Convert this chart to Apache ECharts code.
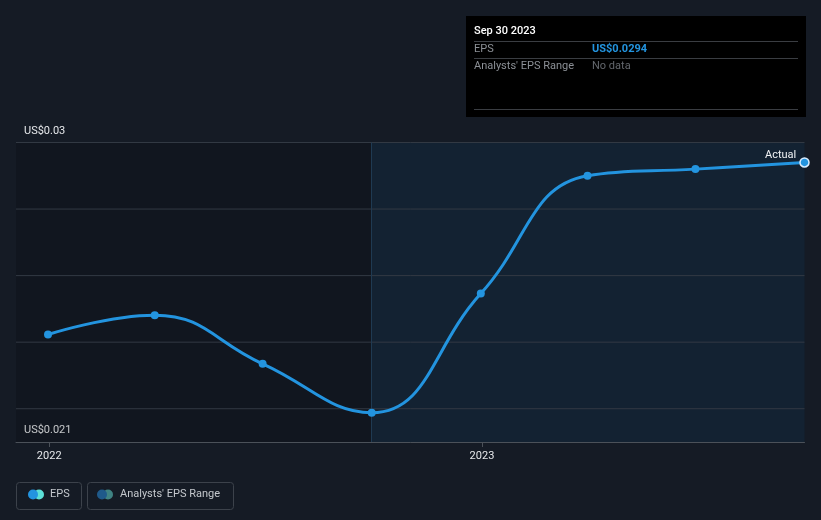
<!DOCTYPE html>
<html>
<head>
<meta charset="utf-8">
<script src="https://cdn.jsdelivr.net/npm/echarts@6/dist/echarts.min.js"></script>
<style>
html,body{margin:0;padding:0;background:#151b25;}
#c{width:821px;height:520px;}
</style>
</head>
<body>
<div id="c"></div>
<script>
// ---- data ----
const dates = ['2021-12-31','2022-03-31','2022-06-30','2022-09-30','2022-12-31','2023-03-31','2023-06-30','2023-09-30'];
const eps = [0.02423, 0.02481, 0.02335, 0.02188, 0.02546, 0.02900, 0.02920, 0.0294];
const xTickDates = ['2022-01-01','2023-01-01'];
const xTickLabels = ['2022','2023'];
const yGridValues = [0.022, 0.024, 0.026, 0.028, 0.030];
const yLabelValues = [0.021, 0.030];
const yLabelTexts = ['US$0.021','US$0.03'];
const forecastStart = '2022-09-30';
const xMin = '2021-12-04';
const xMax = '2023-09-30';
const tipDate = 'Sep 30 2023';
const tipEps = 'US$0.0294';

const t = s => Date.parse(s);
const chart = echarts.init(document.getElementById('c'), null, {renderer:'canvas'});
const font = 'Roboto, "Noto Sans", sans-serif';
const xTickVals = xTickDates.map(t);

const seriesData = dates.map((d,i)=>{
  const item = {value:[t(d), eps[i]]};
  if (i === dates.length-1) {
    item.itemStyle = {color:'#2394df', borderColor:'#d8ecff', borderWidth:1.5};
    item.symbolSize = 9;
    item.label = {show:true, formatter:'Actual', position:[-3,-2], align:'right', verticalAlign:'middle', color:'#f0f2f4', fontSize:11, fontFamily:font};
  }
  return item;
});

const gridSeries = yGridValues.map(v=>({
  type:'line', silent:true, symbol:'none', z:2,
  data:[[t(xMin), v],[t(xMax), v]],
  lineStyle:{color:'#323943', width:1}
}));

chart.setOption({
  backgroundColor:'#151b25',
  animation:false,
  grid:{left:16, right:16.5, top:142.5, bottom:78, containLabel:false},
  xAxis:{
    type:'value', min:t(xMin), max:t(xMax), scale:true,
    axisLine:{show:true, lineStyle:{color:'#4b5159', width:1}},
    axisTick:{show:true, customValues:xTickVals, length:5, lineStyle:{color:'#4b5159'}},
    axisLabel:{customValues:xTickVals, color:'#e6e8eb', fontSize:11, fontFamily:font, margin:9,
      formatter:(v)=>{const i = xTickVals.findIndex(x=>Math.abs(x-v)<1000); return i>=0 ? xTickLabels[i] : '';}},
    splitLine:{show:false}
  },
  yAxis:{
    type:'value', min:0.021, max:0.03,
    axisLine:{show:false},
    axisTick:{show:false},
    splitLine:{show:false},
    axisLabel:{inside:true, customValues:yLabelValues, color:'#e6e8eb', fontSize:11, fontFamily:font,
      verticalAlign:'bottom', margin:8, padding:[0,0,6,0],
      formatter:(v)=>{const i = yLabelValues.findIndex(x=>Math.abs(x-v)<1e-9); return i>=0 ? yLabelTexts[i] : '';}}
  },
  series:[{
    type:'line', data:seriesData, smooth:0.45,
    symbol:'circle', symbolSize:8,
    lineStyle:{color:'#2394df', width:3},
    itemStyle:{color:'#2394df'},
    z:5,
    markArea:{silent:true, data:[
      [{xAxis:t(xMin), itemStyle:{color:'rgba(0,0,0,0.15)'}},{xAxis:t(forecastStart)}],
      [{xAxis:t(forecastStart), itemStyle:{color:'rgba(14,60,100,0.22)'}},{xAxis:t(xMax)}]
    ]},
    markLine:{silent:true, symbol:'none', label:{show:false},
      lineStyle:{color:'#1f3a52', type:'solid', width:1},
      data:[{xAxis:t(forecastStart)}]}
  }].concat(gridSeries),
  graphic:[
    {type:'rect', left:466, top:16, shape:{width:340, height:101}, style:{fill:'#000000'}},
    {type:'text', left:474, top:26, style:{text:tipDate, fill:'#ffffff', font:'500 11px '+font}},
    {type:'line', shape:{x1:474, y1:41.5, x2:798, y2:41.5}, style:{stroke:'#3a3d42', lineWidth:1}},
    {type:'text', left:474, top:44, style:{text:'EPS', fill:'#8c9096', font:'11px '+font}},
    {type:'text', left:592, top:44, style:{text:tipEps, fill:'#2394df', font:'bold 11px '+font}},
    {type:'line', shape:{x1:474, y1:58.5, x2:798, y2:58.5}, style:{stroke:'#3a3d42', lineWidth:1}},
    {type:'text', left:474, top:61, style:{text:"Analysts' EPS Range", fill:'#8c9096', font:'11px '+font}},
    {type:'text', left:592, top:61, style:{text:'No data', fill:'#63676d', font:'11px '+font}},
    {type:'line', shape:{x1:474, y1:109.5, x2:798, y2:109.5}, style:{stroke:'#3a3d42', lineWidth:1}},
    // legend
    {type:'rect', shape:{x:16.5, y:482.5, width:65, height:27, r:3}, style:{fill:'none', stroke:'#3c424b', lineWidth:1}},
    {type:'circle', shape:{cx:39, cy:494.5, r:5}, style:{fill:'#5ce0d8'}},
    {type:'circle', shape:{cx:33, cy:494.5, r:5}, style:{fill:'#2394df'}},
    {type:'text', left:50, top:489, style:{text:'EPS', fill:'#c4c8cd', font:'11px '+font}},
    {type:'rect', shape:{x:87.5, y:482.5, width:146, height:27, r:3}, style:{fill:'none', stroke:'#3c424b', lineWidth:1}},
    {type:'circle', shape:{cx:108, cy:494.5, r:5}, style:{fill:'#3f8383'}},
    {type:'circle', shape:{cx:102, cy:494.5, r:5}, style:{fill:'#1f5a8a'}},
    {type:'text', left:120, top:489, style:{text:"Analysts' EPS Range", fill:'#c4c8cd', font:'11px '+font}}
  ]
});
</script>
</body>
</html>
